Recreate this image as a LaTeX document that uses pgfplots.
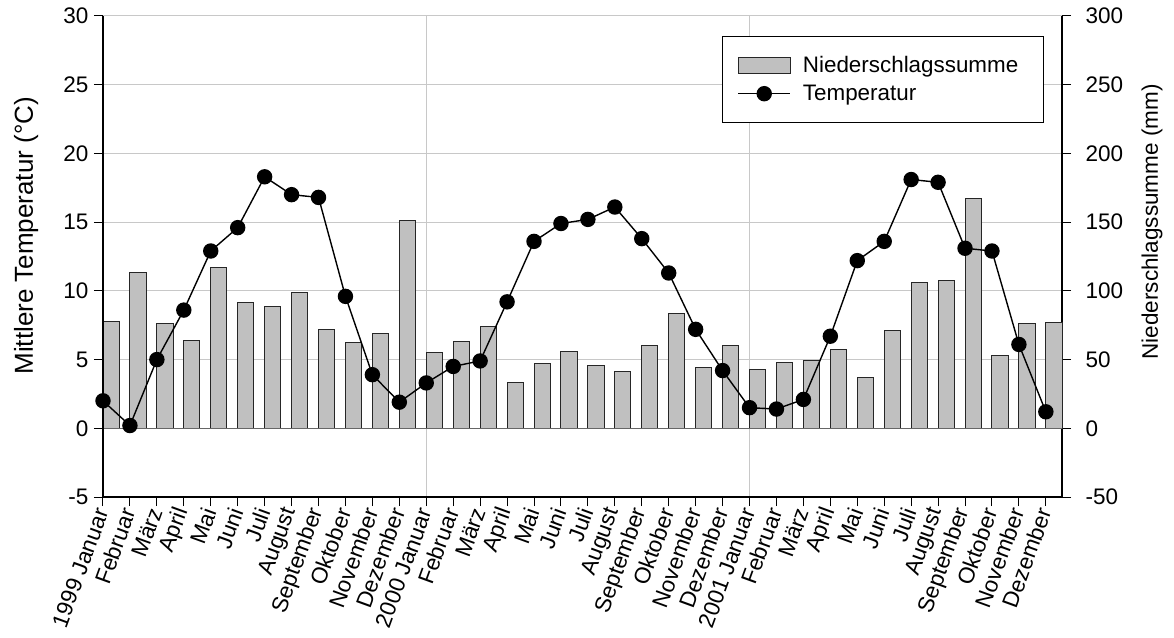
\documentclass[border=0pt]{standalone}
\usepackage{pgfplots}
\pgfplotsset{compat=1.18}
\usepackage{pgfplotstable}
\usepackage{fontspec}
\setmainfont{Liberation Sans}
\definecolor{barfill}{HTML}{C0C0C0}
\definecolor{gridc}{HTML}{C8C8C8}

\pgfplotstableread{
x temp prec
0  2.0  77.7
1  0.2  113.6
2  5.0  76.0
3  8.6  63.9
4  12.9 116.8
5  14.6 91.8
6  18.3 88.9
7  17.0 98.8
8  16.8 71.9
9  9.6  62.1
10 3.9  69.0
11 1.9  151.5
12 3.3  55.1
13 4.5  62.9
14 4.9  73.8
15 9.2  33.0
16 13.6 47.1
17 14.9 55.9
18 15.2 45.9
19 16.1 41.0
20 13.8 60.0
21 11.3 83.8
22 7.2  44.2
23 4.2  60.0
24 1.5  43.0
25 1.4  48.0
26 2.1  49.0
27 6.7  57.0
28 12.2 37.1
29 13.6 70.9
30 18.1 105.8
31 17.9 107.8
32 13.1 167.5
33 12.9 52.9
34 6.1  76.0
35 1.2  76.7
}\data

\newcommand{\tickfont}{\fontsize{22.5}{26}\selectfont}

\begin{document}
\begin{tikzpicture}
\path[use as bounding box] (-103pt,-140pt) rectangle (1071pt,497pt);
% precipitation axis (right)
\begin{axis}[
  scale only axis, width=959pt, height=481pt,
  xmin=0, xmax=35.6, ymin=-50, ymax=300,
  axis y line*=right, axis x line=none,
  xtick=\empty,
  ytick={-50,0,...,300},
  tick align=outside, major tick length=9pt,
  every tick/.style={black, line width=1pt},
  axis line style={black, line width=1.2pt},
  yticklabel style={font=\tickfont, xshift=11pt},
  /pgf/number format/assume math mode=true,
  ymajorgrids, grid style={gridc, line width=1pt},
  ylabel={Niederschlagssumme (mm)},
  ylabel style={font=\tickfont, at={(axis description cs:1.094,0.572)}, anchor=center},
  clip=false,
]
\draw[gridc, line width=1pt] (axis cs:12,-50) -- (axis cs:12,300);
\draw[gridc, line width=1pt] (axis cs:24,-50) -- (axis cs:24,300);
\addplot[ybar, bar width=0.6, bar shift=0pt, fill=barfill, draw=black!85, line width=1pt]
  table[x expr=\thisrow{x}+0.3, y=prec] {\data};
\draw[black!60, line width=1.2pt] (axis cs:0,0) -- (axis cs:35.6,0);
\end{axis}
% temperature axis (left)
\begin{axis}[
  scale only axis, width=959pt, height=481pt,
  xmin=0, xmax=35.6, ymin=-5, ymax=30,
  axis y line*=left, axis x line*=bottom,
  xtick={0,...,35},
  xticklabels={1999 Januar,Februar,März,April,Mai,Juni,Juli,August,September,Oktober,November,Dezember,
               2000 Januar,Februar,März,April,Mai,Juni,Juli,August,September,Oktober,November,Dezember,
               2001 Januar,Februar,März,April,Mai,Juni,Juli,August,September,Oktober,November,Dezember},
  xticklabel style={font=\tickfont, rotate=70, anchor=east, inner sep=3pt},
  ytick={-5,0,...,30},
  tick align=outside, major tick length=9pt,
  every tick/.style={black, line width=1pt},
  axis line style={black, line width=1.2pt},
  yticklabel style={font=\tickfont, xshift=-2pt},
  /pgf/number format/assume math mode=true,
  ylabel={Mittlere Temperatur (°C)},
  ylabel style={font=\fontsize{26}{30}\selectfont, at={(axis description cs:-0.080,0.543)}, anchor=center},
  legend style={at={(0.6455,0.9584)}, anchor=north west, draw=black, line width=1pt,
    font=\fontsize{22.4}{26}\selectfont, inner xsep=15pt, inner ysep=20pt, row sep=11pt, column sep=12pt,
    nodes={inner sep=0pt}},
  legend cell align=left,
  clip=false,
]
\addlegendimage{legend image code/.code={\draw[fill=barfill, draw=black!85, line width=1pt] (0pt,-8pt) rectangle (52pt,8pt);}}
\addlegendentry{Niederschlagssumme\rule{10pt}{0pt}}
\addplot[black, line width=1.4pt, mark=*, mark size=7pt,
  legend image code/.code={\draw[black, line width=1.4pt] (0pt,0pt) -- (52pt,0pt); \fill[black] (26pt,0pt) circle (7pt);}]
  table[x=x, y=temp] {\data};
\addlegendentry{Temperatur}
\end{axis}
\end{tikzpicture}
\end{document}
